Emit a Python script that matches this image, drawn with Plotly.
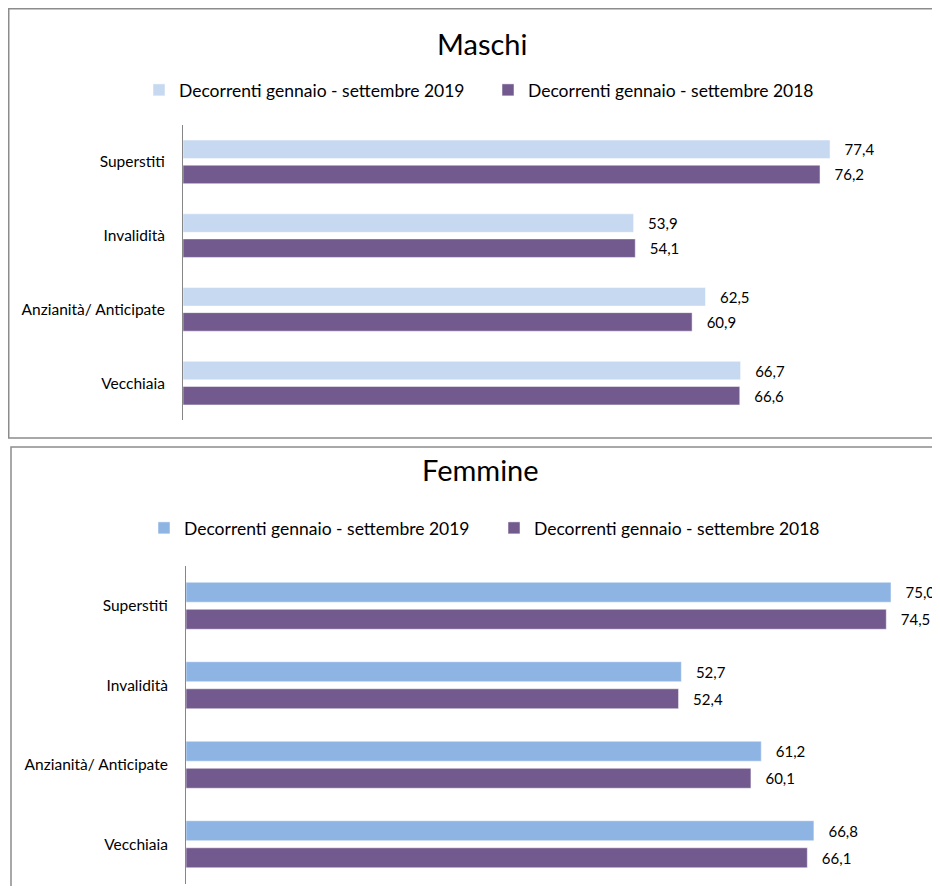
import plotly.graph_objects as go

categories = ["Superstiti", "Invalidità", "Anzianità/ Anticipate", "Vecchiaia"]
series_names = ["Decorrenti gennaio - settembre 2019", "Decorrenti gennaio - settembre 2018"]

maschi_2019 = [77.4, 53.9, 62.5, 66.7]
maschi_2018 = [76.2, 54.1, 60.9, 66.6]
femmine_2019 = [75.0, 52.7, 61.2, 66.8]
femmine_2018 = [74.5, 52.4, 60.1, 66.1]

titles = ["Maschi", "Femmine"]

# page has an 8px body margin; keep figure within the window to avoid scrollbars
OFF = 8
W, H = 940 - OFF, 894 - 2 * OFF
FONT = "Lato"
C_M19 = "#C6D9F1"
C_F19 = "#8EB4E3"
C_18 = "#725A8E"


def px(x):
    return (x - OFF) / W


def py(y):
    return 1 - (y - OFF) / H


fig = go.Figure()

panels = [
    dict(v19=maschi_2019, v18=maschi_2018, c19=C_M19, xa="x", ya="y", leg="legend"),
    dict(v19=femmine_2019, v18=femmine_2018, c19=C_F19, xa="x2", ya="y2", leg="legend2"),
]

for p in panels:
    for vals, col, name in [(p["v19"], p["c19"], series_names[0]), (p["v18"], C_18, series_names[1])]:
        fig.add_trace(go.Bar(
            y=categories, x=vals, orientation="h", name=name,
            marker=dict(color=col, line=dict(color="rgba(255,255,255,0.5)", width=1)),
            texttemplate="   %{x:.1f}", textposition="outside",
            textfont=dict(family=FONT, size=15, color="#000000"),
            cliponaxis=False, xaxis=p["xa"], yaxis=p["ya"], legend=p["leg"],
            hoverinfo="skip",
        ))

ax_common = dict(showgrid=False, zeroline=False, showticklabels=False, showline=False, fixedrange=True)
ya_common = dict(
    autorange="reversed", showline=True, linecolor="#868686", linewidth=1,
    showgrid=False, ticks="", ticklabelstandoff=14,
    tickfont=dict(family=FONT, size=15.5, color="#000000"),
)

TOP_X0, TOP_PPU, TOP_MAX = 183, 8.36, 88
BOT_X0, BOT_PPU, BOT_MAX = 186, 9.4, 79

fig.update_layout(
    width=W, height=H, margin=dict(l=0, r=0, t=0, b=0),
    paper_bgcolor="white", plot_bgcolor="white",
    separators=",.",
    barmode="group",
    bargap=0.32, bargroupgap=0.26,
    font=dict(family=FONT, color="#000000"),
    xaxis=dict(domain=[px(TOP_X0), px(TOP_X0 + TOP_MAX * TOP_PPU)], range=[0, TOP_MAX], anchor="y", **ax_common),
    yaxis=dict(domain=[py(420), py(125)], anchor="x", **ya_common),
    xaxis2=dict(domain=[px(BOT_X0), px(BOT_X0 + BOT_MAX * BOT_PPU)], range=[0, BOT_MAX], anchor="y2", **ax_common),
    yaxis2=dict(domain=[py(884), py(566)], anchor="x2", **ya_common),
    legend=dict(orientation="h", x=px(139), xanchor="left", y=py(90), yanchor="middle",
                font=dict(family=FONT, size=17.5, color="#000000"), entrywidth=304,
                itemclick=False, itemdoubleclick=False, bgcolor="rgba(0,0,0,0)"),
    legend2=dict(orientation="h", x=px(144), xanchor="left", y=py(528), yanchor="middle",
                 font=dict(family=FONT, size=17.5, color="#000000"), entrywidth=305,
                 itemclick=False, itemdoubleclick=False, bgcolor="rgba(0,0,0,0)"),
    showlegend=True,
    shapes=[
        dict(type="rect", xref="paper", yref="paper", x0=px(8.75), x1=1.02, y0=py(438), y1=py(8.75),
             line=dict(color="#8C8C8C", width=1.5), fillcolor="rgba(0,0,0,0)", layer="below"),
        dict(type="rect", xref="paper", yref="paper", x0=px(11), x1=1.02, y0=-0.02, y1=py(447),
             line=dict(color="#8C8C8C", width=1.5), fillcolor="rgba(0,0,0,0)", layer="below"),
    ],
    annotations=[
        dict(text=titles[0], xref="paper", yref="paper", x=px(482), y=py(44), xanchor="center",
             yanchor="middle", showarrow=False, font=dict(family=FONT, size=29, color="#000000")),
        dict(text=titles[1], xref="paper", yref="paper", x=px(480), y=py(469), xanchor="center",
             yanchor="middle", showarrow=False, font=dict(family=FONT, size=29, color="#000000")),
    ],
)

fig.write_html("out.html")
